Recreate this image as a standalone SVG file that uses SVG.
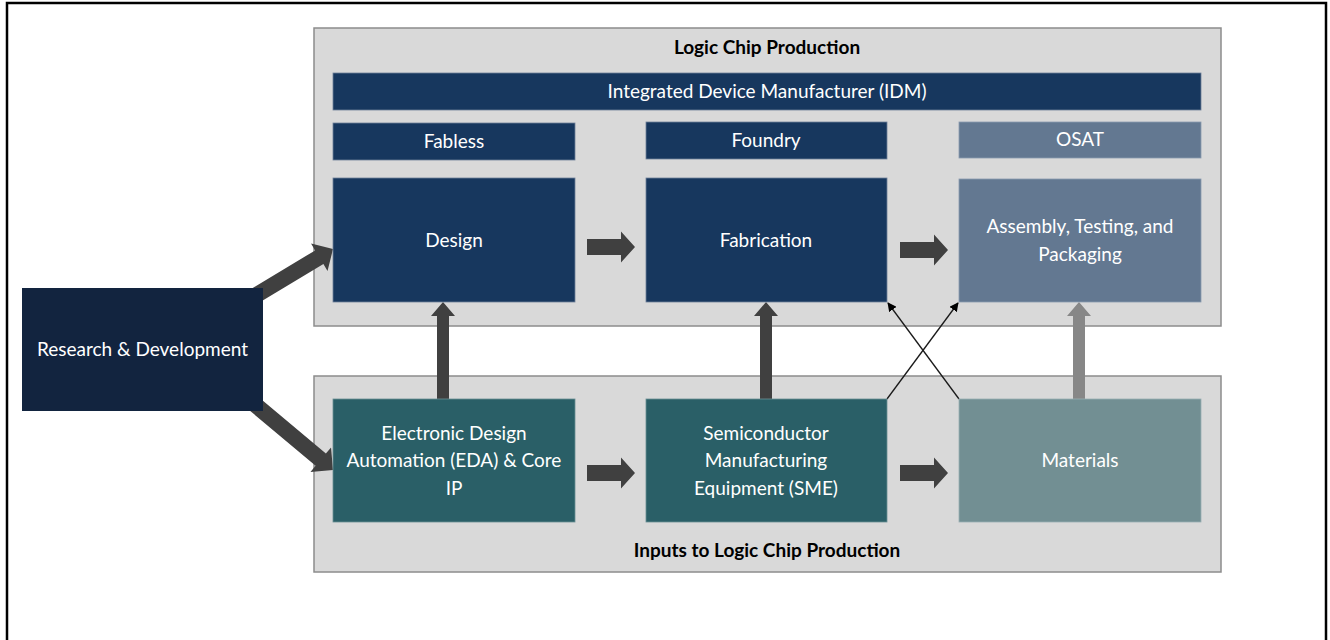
<svg xmlns="http://www.w3.org/2000/svg" width="1330" height="640" viewBox="0 0 1330 640">
<defs>
<style>
.panel{fill:#d9d9d9;stroke:#8c8c8c;stroke-width:1.5}
.navy{fill:#17375e;stroke:#6f819a;stroke-width:0.8}
.slate{fill:#637891;stroke:#8a9bb0;stroke-width:0.8}
.teal{fill:#2a5f67;stroke:#6a8f95;stroke-width:0.8}
.mat{fill:#728f93;stroke:#9ab0b3;stroke-width:0.8}
.rd{fill:#12243f}
.t{font-family:Lato,"Liberation Sans",sans-serif;font-size:19px;fill:#ffffff;text-anchor:middle}
.h{font-family:Lato,"Liberation Sans",sans-serif;font-size:19px;font-weight:bold;fill:#000000;text-anchor:middle}
.thick{fill:#404040}
.light{fill:#878787}
.thin{stroke:#1a1a1a;stroke-width:1.3;fill:none;marker-end:url(#ah)}
</style>
<marker id="ah" viewBox="0 0 10 10" refX="9" refY="5" markerWidth="9" markerHeight="9" markerUnits="userSpaceOnUse" orient="auto">
<path d="M0,0 L10,5 L0,10 z" fill="#000"/>
</marker>
</defs>
<rect x="7" y="3" width="1319" height="660" fill="#ffffff" stroke="#000000" stroke-width="2.5"/>
<g id="panel-top">
<rect class="panel" x="314" y="28" width="907" height="298"/>
<text class="h" x="767" y="54">Logic Chip Production</text>
</g>
<g id="panel-bottom">
<rect class="panel" x="314" y="376" width="907" height="196"/>
<text class="h" x="767" y="557">Inputs to Logic Chip Production</text>
</g>
<g id="connectors">
<polygon class="thick" transform="translate(333,249) rotate(-31)" points="-100,-8 -16,-8 -16,-16 0,0 -16,16 -16,8 -100,8"/>
<polygon class="thick" transform="translate(333,470) rotate(40)" points="-110,-8 -16,-8 -16,-16 0,0 -16,16 -16,8 -110,8"/>
<polygon class="thick" transform="translate(635,247)" points="-48,-8 -14,-8 -14,-15.5 0,0 -14,15.5 -14,8 -48,8"/>
<polygon class="thick" transform="translate(948,250)" points="-48,-8 -14,-8 -14,-15.5 0,0 -14,15.5 -14,8 -48,8"/>
<polygon class="thick" transform="translate(635,473)" points="-48,-8 -14,-8 -14,-15.5 0,0 -14,15.5 -14,8 -48,8"/>
<polygon class="thick" transform="translate(948,473)" points="-48,-8 -14,-8 -14,-15.5 0,0 -14,15.5 -14,8 -48,8"/>
<polygon class="thick" transform="translate(443,302) rotate(-90)" points="-97,-6 -14,-6 -14,-12 0,0 -14,12 -14,6 -97,6"/>
<polygon class="thick" transform="translate(766,302) rotate(-90)" points="-97,-6 -14,-6 -14,-12 0,0 -14,12 -14,6 -97,6"/>
<polygon class="light" transform="translate(1079,302) rotate(-90)" points="-97,-6 -14,-6 -14,-12 0,0 -14,12 -14,6 -97,6"/>
<line class="thin" x1="887" y1="399" x2="958" y2="303"/>
<line class="thin" x1="959" y1="399" x2="888" y2="303"/>
</g>
<g id="idm">
<rect class="navy" x="333" y="73" width="868" height="37"/>
<text class="t" x="767" y="98">Integrated Device Manufacturer (IDM)</text>
</g>
<g id="fabless">
<rect class="navy" x="333" y="123" width="242" height="37"/>
<text class="t" x="454" y="148">Fabless</text>
</g>
<g id="foundry">
<rect class="navy" x="646" y="122" width="241" height="37"/>
<text class="t" x="766" y="147">Foundry</text>
</g>
<g id="osat">
<rect class="slate" x="959" y="122" width="242" height="36"/>
<text class="t" x="1080" y="146">OSAT</text>
</g>
<g id="design">
<rect class="navy" x="333" y="178" width="242" height="124"/>
<text class="t" x="454" y="247">Design</text>
</g>
<g id="fabrication">
<rect class="navy" x="646" y="178" width="241" height="124"/>
<text class="t" x="766" y="247">Fabrication</text>
</g>
<g id="assembly">
<rect class="slate" x="959" y="179" width="242" height="123"/>
<text class="t" x="1080" y="233">Assembly, Testing, and</text>
<text class="t" x="1080" y="261">Packaging</text>
</g>
<g id="rd">
<rect class="rd" x="22" y="288" width="241" height="123"/>
<text class="t" x="142.5" y="356">Research &amp; Development</text>
</g>
<g id="eda">
<rect class="teal" x="333" y="399" width="242" height="123"/>
<text class="t" x="454" y="440">Electronic Design</text>
<text class="t" x="454" y="467">Automation (EDA) &amp; Core</text>
<text class="t" x="454" y="495">IP</text>
</g>
<g id="sme">
<rect class="teal" x="646" y="399" width="241" height="123"/>
<text class="t" x="766" y="440">Semiconductor</text>
<text class="t" x="766" y="467">Manufacturing</text>
<text class="t" x="766" y="495">Equipment (SME)</text>
</g>
<g id="materials">
<rect class="mat" x="959" y="399" width="242" height="123"/>
<text class="t" x="1080" y="467">Materials</text>
</g>
</svg>
